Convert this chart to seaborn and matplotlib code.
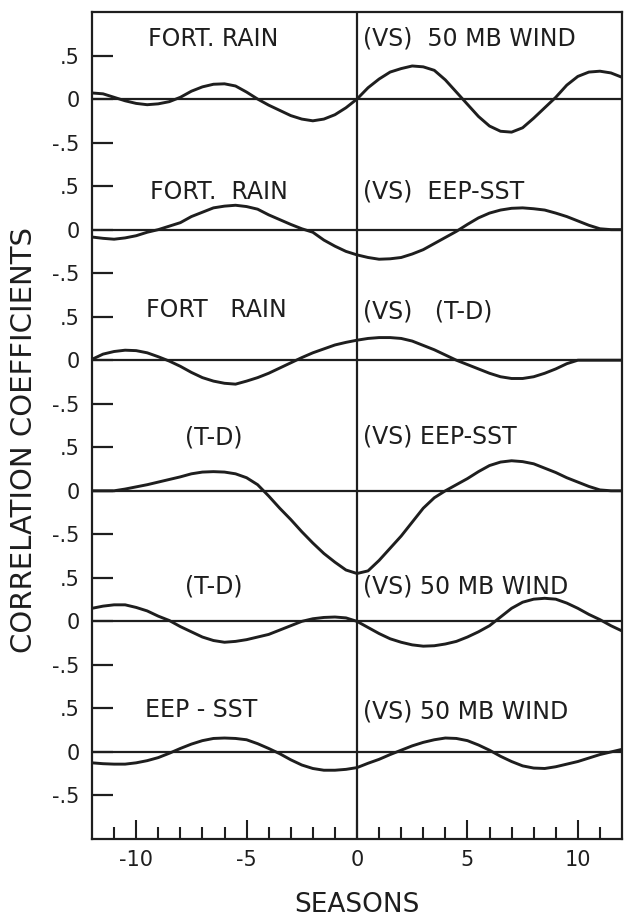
import numpy as np
import pandas as pd
import matplotlib
matplotlib.use("Agg")
import matplotlib.pyplot as plt
import seaborn as sns

# ---------------- data ----------------
seasons = np.arange(-12, 12.01, 0.5)

fort_rain_vs_wind = [0.07, 0.06, 0.02, -0.02, -0.05, -0.065, -0.055, -0.03, 0.02, 0.09,
                     0.14, 0.17, 0.175, 0.15, 0.08, 0.0, -0.07, -0.13, -0.19, -0.23,
                     -0.25, -0.23, -0.18, -0.10, 0.0, 0.13, 0.23, 0.31, 0.35, 0.38,
                     0.37, 0.33, 0.22, 0.08, -0.06, -0.20, -0.31, -0.37, -0.38, -0.33,
                     -0.22, -0.10, 0.02, 0.16, 0.26, 0.31, 0.32, 0.30, 0.25]
fort_rain_vs_sst = [-0.085, -0.10, -0.11, -0.095, -0.07, -0.03, 0.0, 0.04, 0.08, 0.15,
                    0.20, 0.25, 0.27, 0.28, 0.265, 0.235, 0.17, 0.115, 0.06, 0.01,
                    -0.03, -0.12, -0.19, -0.25, -0.29, -0.32, -0.34, -0.335, -0.32, -0.28,
                    -0.23, -0.16, -0.09, -0.02, 0.06, 0.135, 0.19, 0.225, 0.245, 0.25,
                    0.24, 0.225, 0.19, 0.15, 0.10, 0.05, 0.01, 0.0, 0.0]
fort_rain_vs_td = [0.01, 0.07, 0.10, 0.115, 0.11, 0.085, 0.04, -0.01, -0.07, -0.14,
                   -0.20, -0.24, -0.265, -0.275, -0.24, -0.20, -0.15, -0.09, -0.03, 0.03,
                   0.085, 0.13, 0.175, 0.205, 0.23, 0.25, 0.26, 0.26, 0.25, 0.22,
                   0.17, 0.12, 0.06, 0.0, -0.05, -0.10, -0.15, -0.19, -0.21, -0.21,
                   -0.19, -0.15, -0.10, -0.04, 0.0, 0.0, 0.0, 0.0, 0.0]
td_vs_sst = [0.0, 0.0, 0.0, 0.02, 0.045, 0.07, 0.10, 0.13, 0.16, 0.195,
             0.215, 0.22, 0.215, 0.195, 0.15, 0.07, -0.06, -0.20, -0.33, -0.47,
             -0.60, -0.72, -0.82, -0.91, -0.95, -0.92, -0.80, -0.66, -0.52, -0.36,
             -0.20, -0.08, 0.0, 0.07, 0.14, 0.22, 0.29, 0.33, 0.345, 0.335,
             0.31, 0.26, 0.21, 0.15, 0.10, 0.05, 0.01, 0.0, 0.0]
td_vs_wind = [0.15, 0.175, 0.19, 0.19, 0.16, 0.12, 0.06, 0.01, -0.06, -0.12,
              -0.18, -0.22, -0.24, -0.23, -0.21, -0.18, -0.15, -0.10, -0.05, 0.0,
              0.03, 0.045, 0.05, 0.04, 0.0, -0.07, -0.14, -0.20, -0.24, -0.27,
              -0.285, -0.28, -0.26, -0.23, -0.18, -0.12, -0.05, 0.05, 0.15, 0.22,
              0.255, 0.265, 0.255, 0.21, 0.15, 0.08, 0.02, -0.05, -0.11]
sst_vs_wind = [-0.125, -0.135, -0.14, -0.14, -0.125, -0.10, -0.065, -0.015, 0.04, 0.09,
               0.13, 0.155, 0.16, 0.155, 0.14, 0.095, 0.04, -0.02, -0.09, -0.15,
               -0.19, -0.21, -0.21, -0.20, -0.18, -0.13, -0.085, -0.03, 0.02, 0.07,
               0.11, 0.14, 0.16, 0.155, 0.13, 0.08, 0.02, -0.05, -0.11, -0.16,
               -0.185, -0.19, -0.17, -0.14, -0.11, -0.07, -0.03, 0.0, 0.03]

series = [fort_rain_vs_wind, fort_rain_vs_sst, fort_rain_vs_td,
          td_vs_sst, td_vs_wind, sst_vs_wind]

left_labels = ["FORT. RAIN", "FORT.  RAIN", "FORT   RAIN", "(T-D)", "(T-D)", "EEP - SST"]
right_labels = ["(VS)  50 MB WIND", "(VS)  EEP-SST", "(VS)   (T-D)",
                "(VS) EEP-SST", "(VS) 50 MB WIND", "(VS) 50 MB WIND"]

ytick_labels = [".5", "0", "-.5"]
xtick_values = [-10, -5, 0, 5, 10]
xtick_labels = ["-10", "-5", "0", "5", "10"]

# ---------------- layout ----------------
gap = 1.5
rows = []
for i, vals in enumerate(series):
    for s, v in zip(seasons, vals):
        rows.append({"season": s, "panel": i, "y": v - gap * i})
df = pd.DataFrame(rows)

sns.set_theme(style="white")
plt.rcParams["font.family"] = ["DejaVu Sans"]
ink = "#1e1e1e"

fig = plt.figure(figsize=(6.24, 9.19), dpi=100)
ax = fig.add_axes([92 / 624, 1 - 839 / 919, 530 / 624, 827 / 919])

sns.lineplot(data=df, x="season", y="y", units="panel", estimator=None,
             color=ink, linewidth=2.1, sort=False, legend=False, ax=ax,
             solid_joinstyle="round", solid_capstyle="round")

for i in range(len(series)):
    ax.axhline(-gap * i, color=ink, lw=1.6, zorder=1)
ax.axvline(0, color=ink, lw=1.6, zorder=1)

ax.set_xlim(-12, 12)
ax.set_ylim(-gap * 5 - 1.0, 1.0)

yt, yl = [], []
for i in range(len(series)):
    for d, lab in zip([0.5, 0.0, -0.5], ytick_labels):
        yt.append(-gap * i + d)
        yl.append(lab)
ax.set_yticks(yt)
ax.set_yticklabels(yl, fontsize=15, color=ink)
ax.set_xticks(xtick_values)
ax.set_xticklabels(xtick_labels, fontsize=15, color=ink)
ax.set_xticks(np.arange(-11, 12, 1), minor=True)

ax.tick_params(axis="y", which="major", direction="in", length=15, width=1.6,
               color=ink, left=True, pad=9)
ax.tick_params(axis="x", which="major", direction="in", length=13.5, width=1.5,
               color=ink, bottom=True, pad=8)
ax.tick_params(axis="x", which="minor", direction="in", length=8.5, width=1.5,
               color=ink, bottom=True)

for sp in ax.spines.values():
    sp.set_visible(True)
    sp.set_color(ink)
    sp.set_linewidth(1.6)

ax.set_xlabel("")
ax.set_ylabel("")

left_y = [0.69, 0.43, 0.575, 0.615, 0.40, 0.48]
right_y = [0.70, 0.44, 0.565, 0.62, 0.40, 0.46]
left_x = [-9.46, -9.37, -9.55, -7.8, -7.8, -9.6]
for i in range(len(series)):
    ax.text(left_x[i], -gap * i + left_y[i], left_labels[i], fontsize=17,
            color=ink, ha="left", va="center")
    ax.text(0.25, -gap * i + right_y[i], right_labels[i], fontsize=17,
            color=ink, ha="left", va="center")

fig.text(24 / 624, 1 - 440 / 919, "CORRELATION COEFFICIENTS", rotation=90,
         fontsize=21, color=ink, ha="center", va="center")
fig.text(357 / 624, 1 - 905 / 919, "SEASONS", fontsize=19, color=ink,
         ha="center", va="center")

fig.savefig("out.png", dpi=100, facecolor="white")
